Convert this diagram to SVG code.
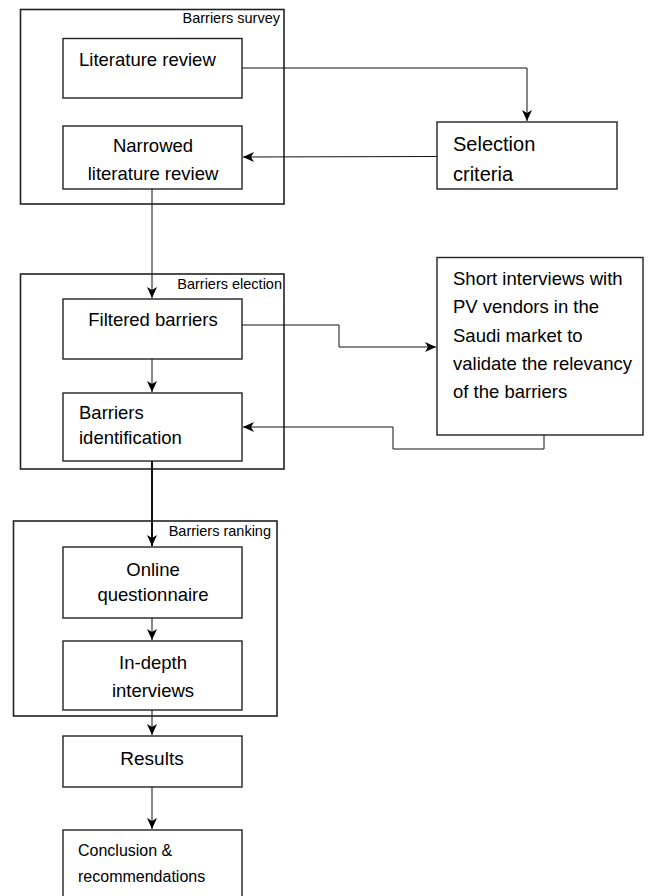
<svg xmlns="http://www.w3.org/2000/svg" width="655" height="896" viewBox="0 0 655 896">
<defs>
<marker id="arr" markerUnits="userSpaceOnUse" markerWidth="12" markerHeight="12" viewBox="0 0 12 12" refX="11" refY="6" orient="auto">
<path d="M0,1 L11,6 L0,11 L3,6 z" fill="#000"/>
</marker>
<style>
.grp{fill:none;stroke:#222;stroke-width:1.6}
.box{fill:#fff;stroke:#222;stroke-width:1.4}
.t{font-family:"Liberation Sans",Arial,sans-serif;fill:#000}
.m{font-size:18.5px}
.c{text-anchor:middle}
.lbl{font-size:14.5px;text-anchor:end}
.ln{fill:none;stroke:#111;stroke-width:1}
</style>
</defs>
<rect width="655" height="896" fill="#fff"/>

<g id="barriers-survey">
<rect class="grp" x="20.5" y="9.5" width="263.5" height="194.5"/>
<text class="t lbl" x="280" y="23">Barriers survey</text>
</g>
<g id="barriers-election">
<rect class="grp" x="20.5" y="274" width="263.5" height="195"/>
<text class="t lbl" x="282" y="289">Barriers election</text>
</g>
<g id="barriers-ranking">
<rect class="grp" x="13.5" y="521" width="263.5" height="195"/>
<text class="t lbl" x="271" y="536">Barriers ranking</text>
</g>

<g id="literature-review">
<rect class="box" x="63" y="38.5" width="179" height="59.5"/>
<text class="t m" x="79" y="66">Literature review</text>
</g>
<g id="narrowed-literature-review">
<rect class="box" x="63" y="126" width="179" height="63"/>
<text class="t m c" x="153" y="152">Narrowed</text>
<text class="t m c" x="153" y="180">literature review</text>
</g>
<g id="selection-criteria">
<rect class="box" x="437" y="122" width="180" height="67"/>
<text class="t" font-size="20" x="453" y="151">Selection</text>
<text class="t" font-size="20" x="453" y="181">criteria</text>
</g>
<g id="filtered-barriers">
<rect class="box" x="63" y="299" width="179" height="60"/>
<text class="t m c" x="153" y="326">Filtered barriers</text>
</g>
<g id="short-interviews">
<rect class="box" x="437" y="257.5" width="206" height="177.5"/>
<text class="t" font-size="18.5" x="453" y="285">Short interviews with</text>
<text class="t" font-size="18.5" x="453" y="313">PV vendors in the</text>
<text class="t" font-size="18.5" x="453" y="342">Saudi market to</text>
<text class="t" font-size="18.5" x="453" y="370">validate the relevancy</text>
<text class="t" font-size="18.5" x="453" y="398">of the barriers</text>
</g>
<g id="barriers-identification">
<rect class="box" x="63" y="393" width="179" height="68"/>
<text class="t m" x="79" y="419">Barriers</text>
<text class="t m" x="79" y="444">identification</text>
</g>
<g id="online-questionnaire">
<rect class="box" x="63" y="547" width="179" height="71"/>
<text class="t m c" x="153" y="576">Online</text>
<text class="t m c" x="153" y="601">questionnaire</text>
</g>
<g id="in-depth-interviews">
<rect class="box" x="63" y="641" width="179" height="69"/>
<text class="t m c" x="153" y="669">In-depth</text>
<text class="t m c" x="153" y="697">interviews</text>
</g>
<g id="results">
<rect class="box" x="63" y="736" width="179" height="51"/>
<text class="t c" font-size="19" x="152" y="765">Results</text>
</g>
<g id="conclusion">
<rect class="box" x="63" y="830" width="179" height="80"/>
<text class="t" font-size="16" x="78" y="856">Conclusion &amp;</text>
<text class="t" font-size="16" x="78" y="882">recommendations</text>
</g>

<g id="connectors">
<polyline class="ln" points="242,68 527,68 527,121" marker-end="url(#arr)"/>
<line class="ln" x1="437" y1="156.5" x2="243" y2="157" marker-end="url(#arr)"/>
<line class="ln" x1="152" y1="189" x2="152" y2="298" marker-end="url(#arr)"/>
<line class="ln" x1="152" y1="359" x2="152" y2="392" marker-end="url(#arr)"/>
<polyline class="ln" points="242,325 339,325 339,347 436,347" marker-end="url(#arr)"/>
<polyline class="ln" points="544,435 544,449 393,449 393,427 243,427" marker-end="url(#arr)"/>
<line class="ln" style="stroke-width:2" x1="152" y1="461" x2="152" y2="546" marker-end="url(#arr)"/>
<line class="ln" x1="152" y1="618" x2="152" y2="640" marker-end="url(#arr)"/>
<line class="ln" x1="152" y1="710" x2="152" y2="735" marker-end="url(#arr)"/>
<line class="ln" x1="152" y1="787" x2="152" y2="829" marker-end="url(#arr)"/>
</g>
</svg>
